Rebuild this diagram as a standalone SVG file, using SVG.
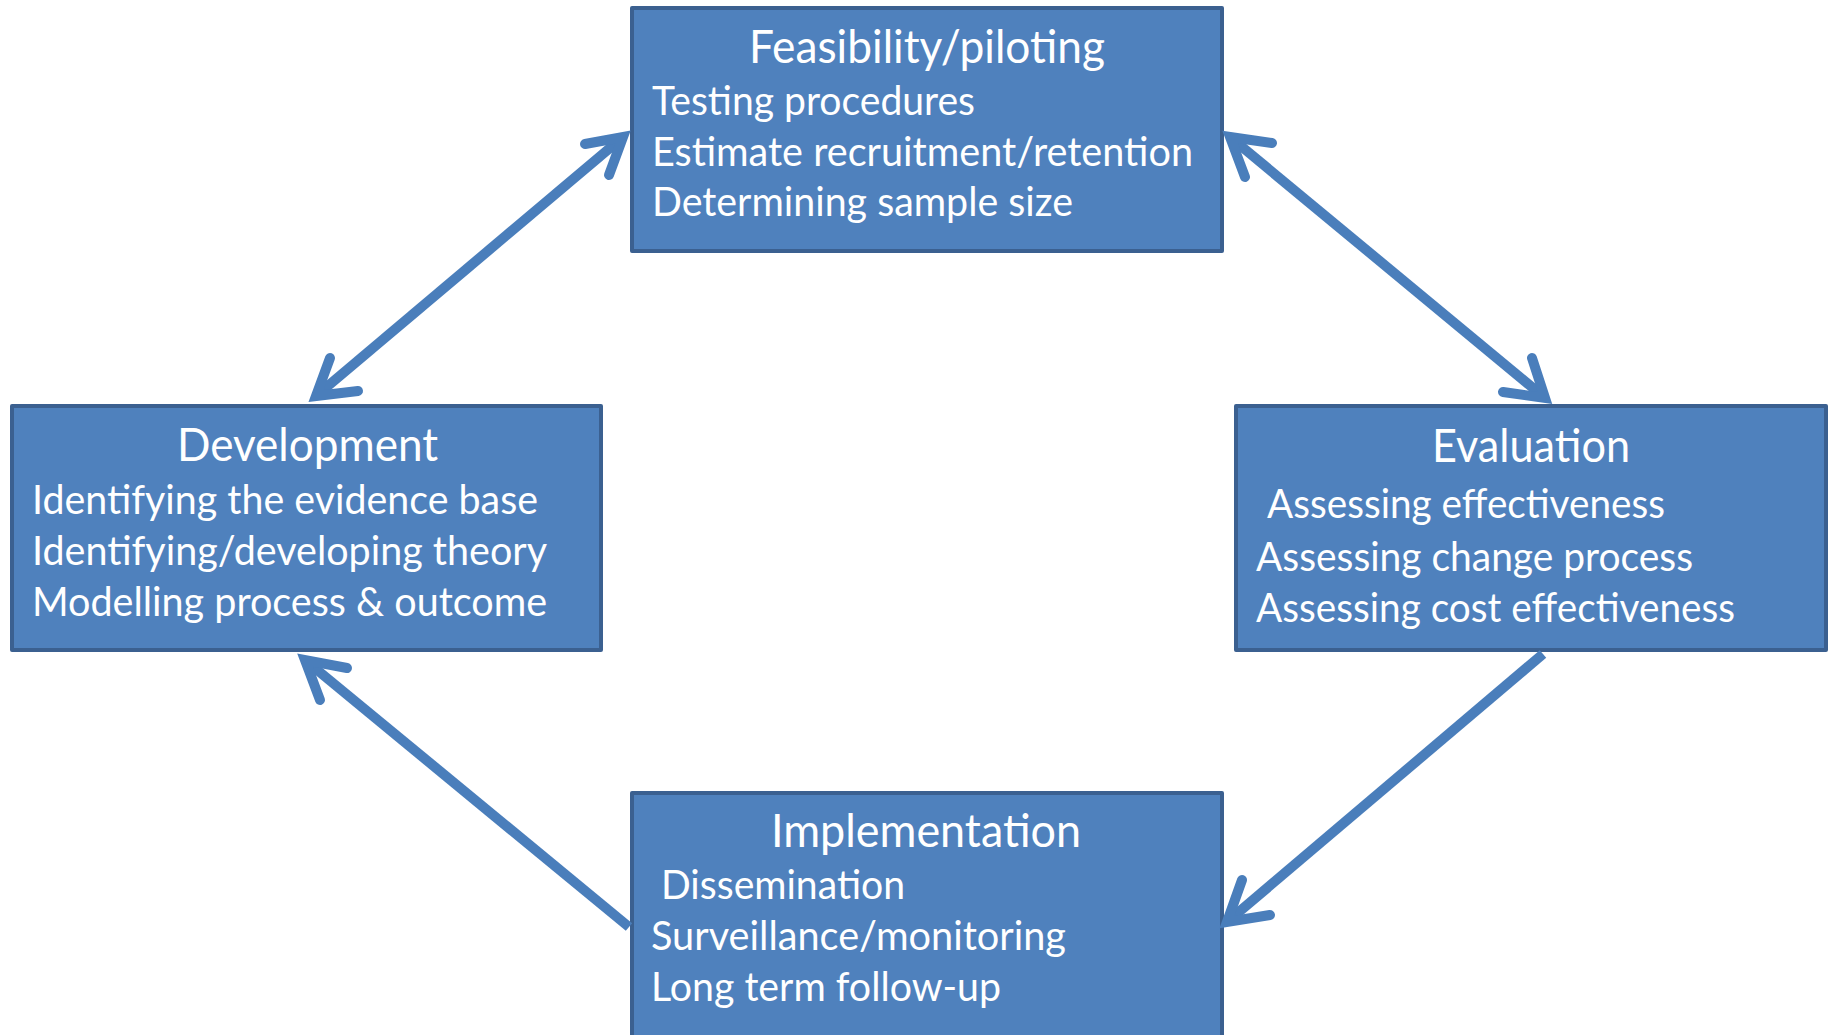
<svg xmlns="http://www.w3.org/2000/svg" width="1835" height="1035" viewBox="0 0 1835 1035">
<style>
.box{fill:#4f81bd;stroke:#3b6090;stroke-width:4;stroke-linejoin:round}
.t{fill:#ffffff;font-family:Lato,"Open Sans","Liberation Sans",sans-serif}
.title{font-size:46px}
.body{font-size:41px}
.shaft{fill:none;stroke:#4a7ebb;stroke-width:10;stroke-linecap:butt}
.head{fill:none;stroke:#4a7ebb;stroke-width:10;stroke-linecap:round;stroke-linejoin:miter}
</style>
<rect width="1835" height="1035" fill="#ffffff"/>
<g id="feasibility">
<rect class="box" x="632" y="8" width="590" height="243"/>
<text class="t title" x="749" y="63" textLength="356" lengthAdjust="spacingAndGlyphs">Feasibility/piloting</text>
<text class="t body" x="652" y="115" textLength="323" lengthAdjust="spacingAndGlyphs">Testing procedures</text>
<text class="t body" x="652" y="166" textLength="541" lengthAdjust="spacingAndGlyphs">Estimate recruitment/retention</text>
<text class="t body" x="652" y="216" textLength="421" lengthAdjust="spacingAndGlyphs">Determining sample size</text>
</g>
<g id="development">
<rect class="box" x="12" y="406" width="589" height="244"/>
<text class="t title" x="177" y="461" textLength="261" lengthAdjust="spacingAndGlyphs">Development</text>
<text class="t body" x="32" y="514" textLength="506" lengthAdjust="spacingAndGlyphs">Identifying the evidence base</text>
<text class="t body" x="32" y="565" textLength="515" lengthAdjust="spacingAndGlyphs">Identifying/developing theory</text>
<text class="t body" x="32" y="616" textLength="515" lengthAdjust="spacingAndGlyphs">Modelling process &amp; outcome</text>
</g>
<g id="evaluation">
<rect class="box" x="1236" y="406" width="590" height="244"/>
<text class="t title" x="1432" y="462" textLength="198" lengthAdjust="spacingAndGlyphs">Evaluation</text>
<text class="t body" x="1267" y="518" textLength="398" lengthAdjust="spacingAndGlyphs">Assessing effectiveness</text>
<text class="t body" x="1256" y="571" textLength="437" lengthAdjust="spacingAndGlyphs">Assessing change process</text>
<text class="t body" x="1256" y="622" textLength="479" lengthAdjust="spacingAndGlyphs">Assessing cost effectiveness</text>
</g>
<g id="implementation">
<rect class="box" x="632" y="793" width="590" height="250"/>
<text class="t title" x="771" y="847" textLength="310" lengthAdjust="spacingAndGlyphs">Implementation</text>
<text class="t body" x="661" y="899" textLength="244" lengthAdjust="spacingAndGlyphs">Dissemination</text>
<text class="t body" x="651" y="950" textLength="415" lengthAdjust="spacingAndGlyphs">Surveillance/monitoring</text>
<text class="t body" x="651" y="1001" textLength="350" lengthAdjust="spacingAndGlyphs">Long term follow-up</text>
</g>
<g id="connectors">
<path class="shaft" d="M623,137 L316,396"/>
<path class="head" d="M585,144 L623,137 L609,175"/>
<path class="head" d="M330,358 L316,396 L358,391"/>
<path class="shaft" d="M1230,137 L1545,398"/>
<path class="head" d="M1272,143 L1230,137 L1245,177"/>
<path class="head" d="M1532,358 L1545,398 L1503,392"/>
<path class="shaft" d="M1543,654 L1227,922"/>
<path class="head" d="M1242,880 L1227,922 L1270,915"/>
<path class="shaft" d="M629,927 L305,660"/>
<path class="head" d="M347,668 L305,660 L320,700"/>
</g>
</svg>
